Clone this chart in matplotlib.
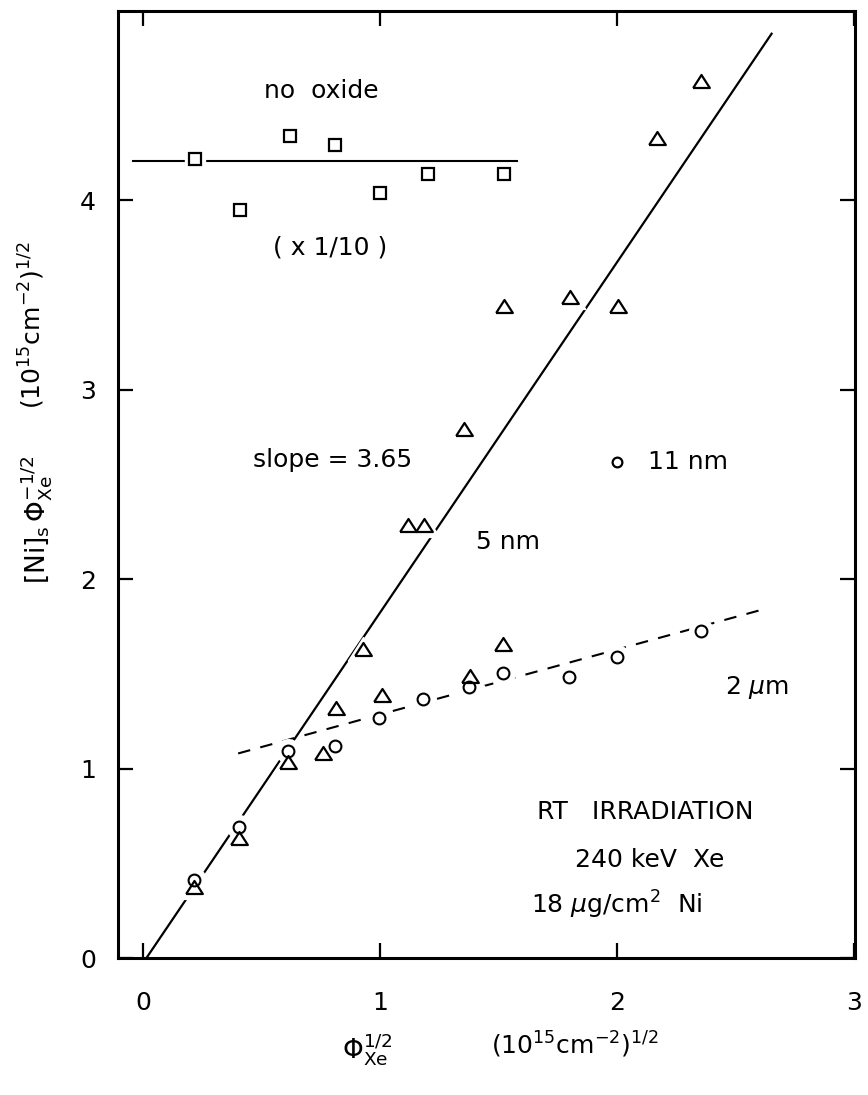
import matplotlib
matplotlib.use("Agg")
import matplotlib.pyplot as plt
import numpy as np

# ---- data ----
# no oxide (x1/10), squares
sq_x = [0.222, 0.409, 0.620, 0.810, 1.000, 1.204, 1.523]
sq_y = [4.216, 3.947, 4.338, 4.290, 4.040, 4.140, 4.140]
sq_fit_x = [-0.04, 1.578]
sq_fit_y = [4.21, 4.21]

# 5 nm, triangles
tri_x = [0.215, 0.406, 0.613, 0.758, 0.814, 0.930, 1.007, 1.120, 1.186,
         1.354, 1.380, 1.520, 1.525, 1.803, 2.003, 2.170, 2.357]
tri_y = [0.376, 0.632, 1.036, 1.080, 1.318, 1.634, 1.390, 2.285, 2.285,
         2.795, 1.490, 1.660, 3.440, 3.490, 3.440, 4.330, 4.633]
tri_fit_x = [0.015, 2.653]
tri_fit_y = [0.0, 4.88]

# 2 um, circles
cir_x = [0.215, 0.406, 0.613, 0.811, 0.997, 1.180, 1.377, 1.518, 1.800, 1.999, 2.357]
cir_y = [0.410, 0.693, 1.094, 1.120, 1.265, 1.367, 1.432, 1.506, 1.485, 1.590, 1.726]
cir_fit_x = [0.402, 2.630]
cir_fit_y = [1.080, 1.845]

# 11 nm key marker
key_x = [2.0]
key_y = [2.62]

xticks = [0, 1, 2, 3]
yticks = [0, 1, 2, 3, 4]

plt.rcParams['font.family'] = ['DejaVu Sans']
plt.rcParams['mathtext.fontset'] = 'dejavusans'

fig = plt.figure(figsize=(8.68, 10.95), dpi=100)
ax = fig.add_axes([118/868, 137/1095, (855-118)/868, (958-11)/1095])
ax.set_xlim(-0.105, 3.005)
ax.set_ylim(0, 5.0)

# lines
ax.plot(sq_fit_x, sq_fit_y, color='black', lw=1.5, zorder=1)
ax.plot(tri_fit_x, tri_fit_y, color='black', lw=1.6, zorder=1)
ax.plot(cir_fit_x, cir_fit_y, color='black', lw=1.5, dashes=(6, 5), zorder=1)

# white halos (gaps in the lines around markers)
tri_marker = [(-1, -0.78), (1, -0.78), (0, 0.78), (-1, -0.78)]
ax.plot(sq_x, sq_y, ls='none', marker='s', ms=15, mfc='white', mec='white', zorder=2)
ax.plot(tri_x, tri_y, ls='none', marker=tri_marker, ms=22, mfc='white', mec='white', zorder=2)
ax.plot(cir_x, cir_y, ls='none', marker='o', ms=17, mfc='white', mec='white', zorder=2)

# markers
ax.plot(sq_x, sq_y, ls='none', marker='s', ms=9, mfc='white', mec='black', mew=1.6, zorder=3)
ax.plot(tri_x, tri_y, ls='none', marker=tri_marker, ms=12, mfc='none', mec='black', mew=1.6, zorder=4)
ax.plot(cir_x, cir_y, ls='none', marker='o', ms=8.5, mfc='none', mec='black', mew=1.5, zorder=4)
ax.plot(key_x, key_y, ls='none', marker='o', ms=7, mfc='none', mec='black', mew=1.6, zorder=4)

# annotations
fs = 18
ax.text(0.755, 4.58, 'no  oxide', ha='center', va='center', fontsize=fs)
ax.text(0.79, 3.75, '( x 1/10 )', ha='center', va='center', fontsize=fs)
ax.text(0.80, 2.63, 'slope = 3.65', ha='center', va='center', fontsize=fs)
ax.text(1.54, 2.195, '5 nm', ha='center', va='center', fontsize=fs)
ax.text(2.13, 2.62, '11 nm', ha='left', va='center', fontsize=fs)
ax.text(2.59, 1.43, r'2 $\mu$m', ha='center', va='center', fontsize=fs)
ax.text(2.12, 0.77, 'RT   IRRADIATION', ha='center', va='center', fontsize=fs)
ax.text(2.14, 0.517, '240 keV  Xe', ha='center', va='center', fontsize=fs)
ax.text(2.0, 0.28, r'18 $\mu$g/cm$^2$  Ni', ha='center', va='center', fontsize=fs)

# axes styling
ax.set_xticks(xticks)
ax.set_yticks(yticks)
ax.set_xticklabels([str(t) for t in xticks])
ax.set_yticklabels([str(t) for t in yticks])
ax.tick_params(direction='in', length=11, width=1.6, labelsize=18,
               top=True, right=True)
ax.tick_params(axis='x', pad=24)
ax.tick_params(axis='y', pad=16)
for sp in ax.spines.values():
    sp.set_linewidth(2.2)

# axis labels (two parts each)
fig.text(367/868, 1 - 1050/1095, r'$\Phi_{\mathrm{Xe}}^{1/2}$',
         ha='center', va='center', fontsize=19)
fig.text(575/868, 1 - 1045/1095, r'$(10^{15}\mathrm{cm}^{-2})^{1/2}$',
         ha='center', va='center', fontsize=18)
fig.text(37/868, 1 - 520/1095, r'$[\mathrm{Ni}]_{\mathrm{s}}\,\Phi_{\mathrm{Xe}}^{-1/2}$',
         ha='center', va='center', rotation=90, fontsize=19)
fig.text(32/868, 1 - 325/1095, r'$(10^{15}\mathrm{cm}^{-2})^{1/2}$',
         ha='center', va='center', rotation=90, fontsize=18)

fig.savefig('out.png', dpi=100)
